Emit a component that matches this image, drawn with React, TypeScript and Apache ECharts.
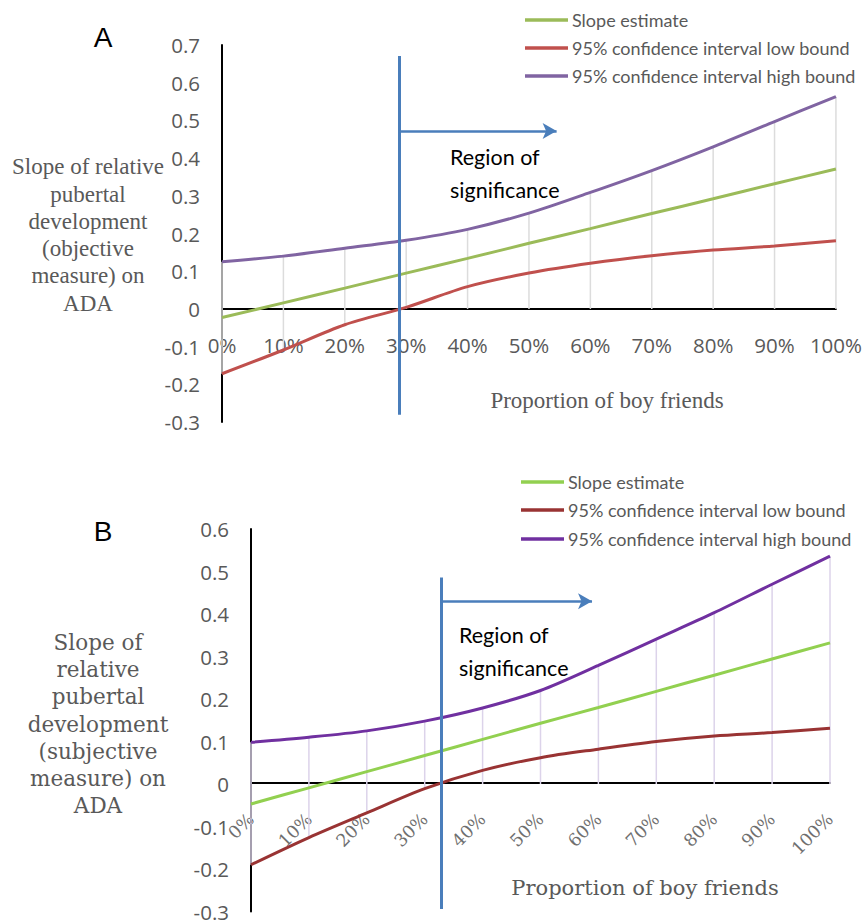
import React, { useEffect, useRef } from "react";
import * as echarts from "echarts";

// ---- Data ----
const xPercents = [0, 10, 20, 30, 40, 50, 60, 70, 80, 90, 100];
const xTickLabels = ["0%", "10%", "20%", "30%", "40%", "50%", "60%", "70%", "80%", "90%", "100%"];
const yTicksA = [-0.3, -0.2, -0.1, 0, 0.1, 0.2, 0.3, 0.4, 0.5, 0.6, 0.7];
const yTicksB = [-0.3, -0.2, -0.1, 0, 0.1, 0.2, 0.3, 0.4, 0.5, 0.6];

const seriesNames = [
  "Slope estimate",
  "95% confidence interval low bound",
  "95% confidence interval high bound",
];

// Panel A (objective measure)
const slopeA = [-0.023, 0.016, 0.055, 0.095, 0.134, 0.174, 0.213, 0.253, 0.292, 0.332, 0.371];
const lowA = [-0.172, -0.109, -0.042, 0.004, 0.059, 0.095, 0.121, 0.141, 0.156, 0.167, 0.181];
const highA = [0.125, 0.14, 0.161, 0.182, 0.211, 0.254, 0.309, 0.367, 0.43, 0.497, 0.563];
const thresholdA = 28.8; // region of significance starts here

// Panel B (subjective measure)
const slopeB = [-0.047, -0.009, 0.029, 0.067, 0.105, 0.143, 0.18, 0.218, 0.256, 0.294, 0.332];
const lowB = [-0.19, -0.126, -0.068, -0.011, 0.032, 0.062, 0.082, 0.1, 0.113, 0.121, 0.131];
const highB = [0.098, 0.11, 0.125, 0.148, 0.179, 0.22, 0.279, 0.341, 0.403, 0.47, 0.536];
const thresholdB = 32.8;

const colorsA = ["#9bbb59", "#c0504d", "#8064a2"];
const colorsB = ["#92d050", "#993333", "#7030a0"];
const blue = "#4a7ebb";
const gray = "#595959";

// layout
const gridA = { left: 222, right: 28, top: 45, height: 377 };
const gridB = { left: 251, right: 35, top: 529, height: 385 };

function pairs(vals: number[]) {
  return xPercents.map((x, i) => [x, vals[i]]);
}

function dropData(hi: number[], lo: number[]) {
  return xPercents.map((x, i) => [x, Math.max(0, hi[i]), Math.min(0, lo[i])]);
}

// offset that moves the x axis from the grid bottom up to y = 0
function zeroOffset(ticks: number[], height: number) {
  const min = ticks[0];
  const max = ticks[ticks.length - 1];
  return -((0 - min) / (max - min)) * height;
}

function dropSeries(idx: number, hi: number[], lo: number[], color: string) {
  return {
    type: "custom",
    xAxisIndex: idx,
    yAxisIndex: idx,
    silent: true,
    z: 1,
    encode: { x: 0, y: [1, 2] },
    data: dropData(hi, lo),
    renderItem: (params: any, api: any) => {
      const x = api.value(0);
      const p1 = api.coord([x, api.value(1)]);
      const p2 = api.coord([x, api.value(2)]);
      return {
        type: "line",
        shape: { x1: p1[0], y1: p1[1], x2: p2[0], y2: p2[1] },
        style: { stroke: color, lineWidth: 1.5 },
      };
    },
  };
}

function lineSeries(idx: number, name: string, vals: number[], color: string, markLine?: any) {
  const s: any = {
    type: "line",
    name,
    xAxisIndex: idx,
    yAxisIndex: idx,
    data: pairs(vals),
    smooth: 0.3,
    showSymbol: false,
    symbol: "none",
    lineStyle: { color, width: 3 },
    itemStyle: { color },
    z: 3,
  };
  if (markLine) s.markLine = markLine;
  return s;
}

function sigMarkLine(th: number, yLo: number, yHi: number, arrowY: number, arrowEnd: number) {
  return {
    silent: true,
    symbol: ["none", "none"],
    label: { show: false },
    emphasis: { disabled: true },
    data: [
      [
        { coord: [th, yLo], symbol: "none", lineStyle: { color: blue, width: 3, type: "solid" } },
        { coord: [th, yHi], symbol: "none" },
      ],
      [
        { coord: [th, arrowY], symbol: "none", lineStyle: { color: blue, width: 2.5, type: "solid" } },
        { coord: [arrowEnd, arrowY], symbol: "arrow", symbolSize: [12, 14] },
      ],
    ],
  };
}

const yFmt = (v: number) => {
  const r = Math.round(v * 10) / 10;
  return r === 0 ? "0" : String(r);
};
const xFmt = (v: number) => {
  const i = xPercents.indexOf(Math.round(v));
  return i >= 0 ? xTickLabels[i] : "";
};

function legendGraphics(x1: number, x2: number, ys: number[], colors: string[]) {
  const out: any[] = [];
  ys.forEach((y, i) => {
    out.push({
      type: "line",
      shape: { x1, y1: y, x2, y2: y },
      style: { stroke: colors[i], lineWidth: 3.5 },
      silent: true,
    });
    out.push({
      type: "text",
      x: x2 + 4,
      y,
      style: {
        text: seriesNames[i],
        fill: gray,
        font: "18px Lato, sans-serif",
        verticalAlign: "middle",
      },
      silent: true,
    });
  });
  return out;
}

export default function App() {
  const ref = useRef<HTMLDivElement>(null);
  useEffect(() => {
    if (!ref.current) return;
    const chart = echarts.init(ref.current, null, { renderer: "svg" });

    const xAxisCommon = {
      type: "value",
      min: 0,
      max: 100,
      interval: 10,
      splitLine: { show: false },
      axisTick: { show: false },
      axisLine: { show: true, onZero: false, lineStyle: { color: "#000", width: 2 } },
    };
    const yAxisCommon = {
      type: "value",
      min: -0.3,
      interval: 0.1,
      splitLine: { show: false },
      axisTick: { show: false },
      axisLine: { show: true, lineStyle: { color: "#000", width: 2 } },
    };

    const option: any = {
      animation: false,
      backgroundColor: "#ffffff",
      grid: [gridA, gridB],
      xAxis: [
        {
          ...xAxisCommon,
          gridIndex: 0,
          offset: zeroOffset(yTicksA, gridA.height),
          axisLabel: {
            formatter: xFmt,
            color: gray,
            fontFamily: "Open Sans, sans-serif",
            fontSize: 20.5,
            margin: 26,
            showMinLabel: true,
            showMaxLabel: true,
          },
        },
        {
          ...xAxisCommon,
          gridIndex: 1,
          offset: zeroOffset(yTicksB, gridB.height),
          axisLabel: {
            formatter: xFmt,
            color: "#6f6f6f",
            fontFamily: "DejaVu Serif, serif",
            fontSize: 17.5,
            rotate: 45,
            margin: 33,
            showMinLabel: true,
            showMaxLabel: true,
          },
        },
      ],
      yAxis: [
        {
          ...yAxisCommon,
          gridIndex: 0,
          max: yTicksA[yTicksA.length - 1],
          axisLabel: {
            formatter: yFmt,
            color: gray,
            fontFamily: "Open Sans, sans-serif",
            fontSize: 20.5,
            lineHeight: 16,
            margin: 22,
          },
        },
        {
          ...yAxisCommon,
          gridIndex: 1,
          max: yTicksB[yTicksB.length - 1],
          axisLabel: {
            formatter: yFmt,
            color: gray,
            fontFamily: "Open Sans, sans-serif",
            fontSize: 20.5,
            lineHeight: 15,
            margin: 22,
          },
        },
      ],
      series: [
        dropSeries(0, highA, lowA, "#dcdcdc"),
        lineSeries(0, seriesNames[0], slopeA, colorsA[0], sigMarkLine(thresholdA, -0.281, 0.671, 0.472, 54.5)),
        lineSeries(0, seriesNames[1], lowA, colorsA[1]),
        lineSeries(0, seriesNames[2], highA, colorsA[2]),
        dropSeries(1, highB, lowB, "#dcd3ea"),
        lineSeries(1, seriesNames[0], slopeB, colorsB[0], sigMarkLine(thresholdB, -0.294, 0.486, 0.43, 58.9)),
        lineSeries(1, seriesNames[1], lowB, colorsB[1]),
        lineSeries(1, seriesNames[2], highB, colorsB[2]),
      ],
      graphic: [
        // Panel letters
        { type: "text", x: 103, y: 37, style: { text: "A", font: "28px Liberation Sans, Arial, sans-serif", fill: "#000", align: "center", verticalAlign: "middle" } },
        { type: "text", x: 103, y: 531, style: { text: "B", font: "28px Liberation Sans, Arial, sans-serif", fill: "#000", align: "center", verticalAlign: "middle" } },
        // Y titles
        {
          type: "text",
          x: 88,
          y: 235,
          style: {
            text: "Slope of relative\npubertal\ndevelopment\n(objective\nmeasure) on\nADA",
            font: "23px Liberation Serif, Times New Roman, serif",
            lineHeight: 27.3,
            fill: gray,
            align: "center",
            verticalAlign: "middle",
          },
        },
        {
          type: "text",
          x: 98,
          y: 724,
          style: {
            text: "Slope of\nrelative\npubertal\ndevelopment\n(subjective\nmeasure) on\nADA",
            font: "21.5px DejaVu Serif, serif",
            lineHeight: 27.2,
            fill: gray,
            align: "center",
            verticalAlign: "middle",
          },
        },
        // X titles
        { type: "text", x: 607, y: 400, style: { text: "Proportion of boy friends", font: "23px Liberation Serif, Times New Roman, serif", fill: gray, align: "center", verticalAlign: "middle" } },
        { type: "text", x: 645, y: 888, style: { text: "Proportion of boy friends", font: "21px DejaVu Serif, serif", fill: gray, align: "center", verticalAlign: "middle" } },
        // Region labels
        { type: "text", x: 450, y: 157, style: { text: "Region of", font: "21.5px Lato, sans-serif", fill: "#000", align: "left", verticalAlign: "middle" } },
        { type: "text", x: 450, y: 190, style: { text: "significance", font: "21.5px Lato, sans-serif", fill: "#000", align: "left", verticalAlign: "middle" } },
        { type: "text", x: 459, y: 635, style: { text: "Region of", font: "21.5px Lato, sans-serif", fill: "#000", align: "left", verticalAlign: "middle" } },
        { type: "text", x: 459, y: 668, style: { text: "significance", font: "21.5px Lato, sans-serif", fill: "#000", align: "left", verticalAlign: "middle" } },
        // Legends
        ...legendGraphics(525, 568, [20, 48, 76], colorsA),
        ...legendGraphics(521, 564, [482, 510, 539], colorsB),
      ],
    };
    chart.setOption(option);
    return () => chart.dispose();
  }, []);
  return (
    <div
      ref={ref}
      style={{ position: "fixed", left: 0, top: 0, width: 865, height: 922, background: "#fff" }}
    />
  );
}
